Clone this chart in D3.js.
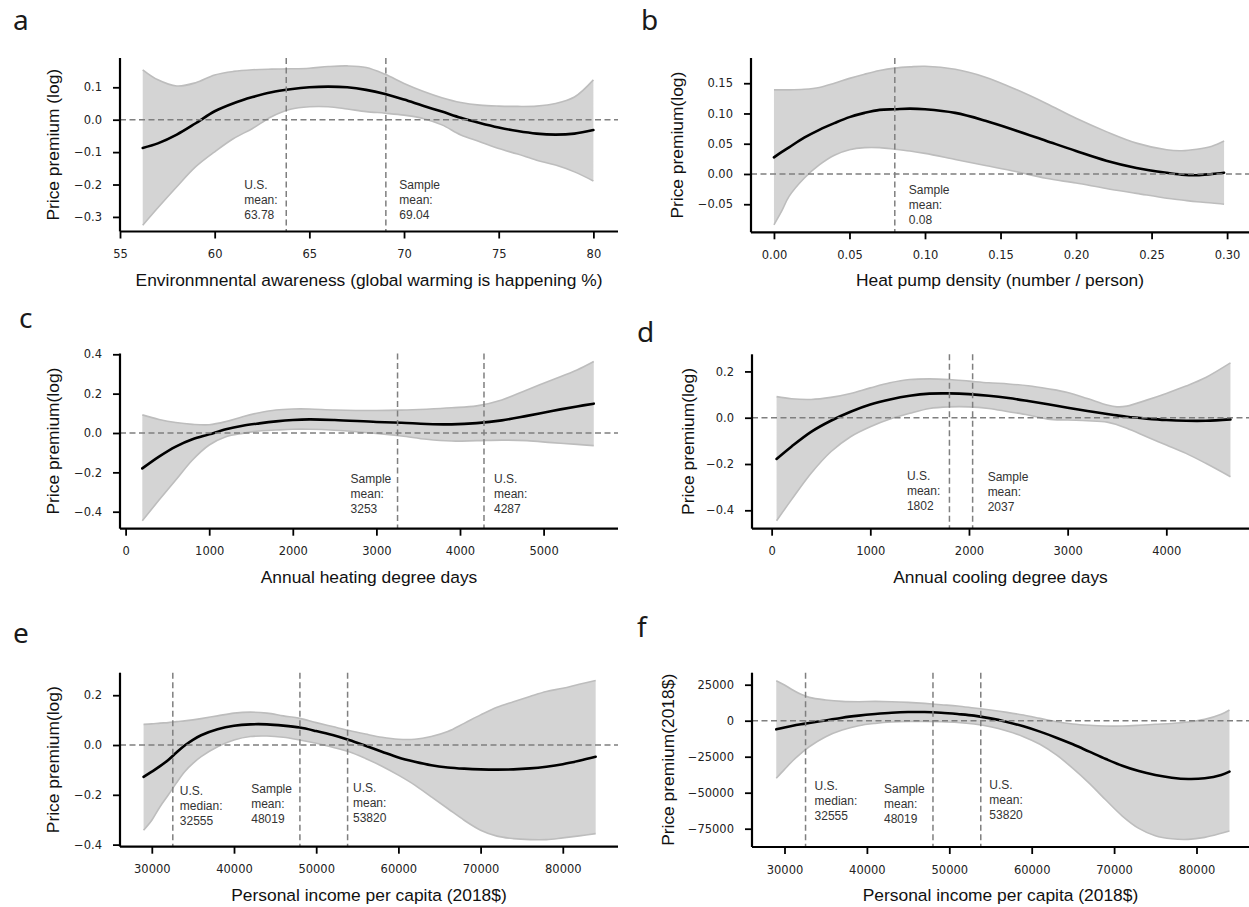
<!DOCTYPE html>
<html>
<head>
<meta charset="utf-8">
<script src="https://cdn.jsdelivr.net/npm/d3@7"></script>
<style>
  body { margin: 0; background: #fff; }
  svg { display: block; }
</style>
</head>
<body>
<svg id="fig" width="1249" height="907"></svg>
<script>
// ---------- a: environmental awareness ----------
const aX     = [56.2, 57, 58, 59, 60, 61, 62, 63, 64, 65, 66, 67, 68, 69, 70, 71, 72, 73, 74, 75, 76, 77, 78, 79, 80];
const aFit   = [-0.087, -0.073, -0.046, -0.011, 0.026, 0.051, 0.070, 0.085, 0.094, 0.100, 0.102, 0.100, 0.092, 0.079, 0.062, 0.043, 0.025, 0.006, -0.010, -0.024, -0.035, -0.043, -0.046, -0.043, -0.032];
const aUpper = [0.154, 0.123, 0.104, 0.114, 0.138, 0.149, 0.154, 0.156, 0.157, 0.159, 0.164, 0.166, 0.161, 0.140, 0.112, 0.088, 0.068, 0.053, 0.045, 0.042, 0.041, 0.042, 0.050, 0.070, 0.123];
const aLower = [-0.326, -0.272, -0.207, -0.145, -0.099, -0.058, -0.027, 0.009, 0.032, 0.040, 0.040, 0.033, 0.025, 0.020, 0.014, 0.004, -0.016, -0.047, -0.068, -0.089, -0.106, -0.125, -0.140, -0.161, -0.189];
const aMarkValues = [63.78, 69.04];
const aMarkLabels = [["U.S.", "mean:", "63.78"], ["Sample", "mean:", "69.04"]];
const aXTicks = [55, 60, 65, 70, 75, 80];
const aYTicks = [-0.3, -0.2, -0.1, 0.0, 0.1];

// ---------- b: heat pump density ----------
const bX     = [0, 0.005, 0.01, 0.02, 0.03, 0.04, 0.05, 0.06, 0.07, 0.08, 0.09, 0.10, 0.12, 0.14, 0.16, 0.18, 0.20, 0.22, 0.24, 0.26, 0.27, 0.28, 0.29, 0.298];
const bFit   = [0.0275, 0.036, 0.044, 0.060, 0.073, 0.084, 0.094, 0.101, 0.106, 0.107, 0.108, 0.107, 0.101, 0.088, 0.072, 0.055, 0.038, 0.022, 0.010, 0.002, -0.001, -0.002, 0.000, 0.002];
const bUpper = [0.139, 0.139, 0.139, 0.140, 0.143, 0.150, 0.158, 0.165, 0.171, 0.175, 0.177, 0.178, 0.173, 0.160, 0.140, 0.117, 0.092, 0.070, 0.051, 0.040, 0.0385, 0.041, 0.046, 0.0545];
const bLower = [-0.084, -0.062, -0.037, -0.007, 0.015, 0.031, 0.040, 0.0435, 0.0435, 0.041, 0.038, 0.034, 0.024, 0.014, 0.004, -0.007, -0.015, -0.024, -0.032, -0.040, -0.043, -0.046, -0.048, -0.050];
const bMarkValues = [0.08];
const bMarkLabels = [["Sample", "mean:", "0.08"]];
const bXTicks = [0, 0.05, 0.10, 0.15, 0.20, 0.25, 0.30];
const bYTicks = [-0.05, 0.00, 0.05, 0.10, 0.15];

// ---------- c: heating degree days ----------
const cX     = [200, 400, 600, 800, 1000, 1200, 1400, 1600, 1800, 2000, 2200, 2500, 3000, 3300, 3600, 3900, 4200, 4500, 4800, 5100, 5400, 5600];
const cFit   = [-0.180, -0.120, -0.069, -0.032, -0.007, 0.019, 0.037, 0.049, 0.059, 0.066, 0.069, 0.066, 0.056, 0.052, 0.046, 0.044, 0.050, 0.064, 0.087, 0.112, 0.135, 0.149];
const cUpper = [0.092, 0.069, 0.053, 0.044, 0.042, 0.058, 0.083, 0.103, 0.117, 0.122, 0.122, 0.117, 0.114, 0.116, 0.121, 0.128, 0.138, 0.168, 0.219, 0.269, 0.320, 0.363];
const cLower = [-0.446, -0.341, -0.239, -0.137, -0.061, -0.019, -0.002, 0.010, 0.015, 0.019, 0.019, 0.014, -0.002, -0.015, -0.032, -0.041, -0.039, -0.036, -0.039, -0.049, -0.058, -0.064];
const cMarkValues = [3253, 4287];
const cMarkLabels = [["Sample", "mean:", "3253"], ["U.S.", "mean:", "4287"]];
const cXTicks = [0, 1000, 2000, 3000, 4000, 5000];
const cYTicks = [-0.4, -0.2, 0.0, 0.2, 0.4];

// ---------- d: cooling degree days ----------
const dX     = [50, 200, 400, 600, 800, 1000, 1200, 1400, 1600, 1800, 2000, 2200, 2400, 2600, 2800, 3000, 3200, 3400, 3500, 3600, 3800, 4000, 4200, 4400, 4650];
const dFit   = [-0.178, -0.125, -0.061, -0.013, 0.026, 0.057, 0.079, 0.095, 0.104, 0.105, 0.102, 0.095, 0.085, 0.072, 0.058, 0.043, 0.029, 0.016, 0.010, 0.004, -0.004, -0.010, -0.013, -0.013, -0.007];
const dUpper = [0.091, 0.082, 0.079, 0.088, 0.105, 0.129, 0.151, 0.165, 0.168, 0.165, 0.158, 0.151, 0.146, 0.138, 0.125, 0.109, 0.083, 0.055, 0.047, 0.050, 0.076, 0.105, 0.137, 0.174, 0.237];
const dLower = [-0.445, -0.355, -0.240, -0.147, -0.082, -0.039, -0.006, 0.019, 0.040, 0.047, 0.047, 0.040, 0.026, 0.012, -0.006, -0.010, -0.013, -0.019, -0.030, -0.046, -0.082, -0.118, -0.154, -0.197, -0.255];
const dMarkValues = [1802, 2037];
const dMarkLabels = [["U.S.", "mean:", "1802"], ["Sample", "mean:", "2037"]];
const dXTicks = [0, 1000, 2000, 3000, 4000];
const dYTicks = [-0.4, -0.2, 0.0, 0.2];

// ---------- e: income, log premium ----------
const eX     = [29000, 30000, 31000, 32000, 33000, 34000, 35000, 36000, 38000, 40000, 42000, 44000, 46000, 48000, 50000, 52000, 54000, 56000, 58000, 60000, 62000, 64000, 66000, 68000, 70000, 72000, 74000, 76000, 78000, 80000, 82000, 84000];
const eFit   = [-0.128, -0.107, -0.085, -0.060, -0.030, -0.002, 0.021, 0.039, 0.063, 0.077, 0.083, 0.083, 0.078, 0.070, 0.056, 0.040, 0.020, -0.003, -0.027, -0.050, -0.067, -0.081, -0.090, -0.095, -0.098, -0.099, -0.098, -0.094, -0.087, -0.077, -0.063, -0.047];
const eUpper = [0.083, 0.085, 0.088, 0.090, 0.094, 0.097, 0.101, 0.106, 0.117, 0.128, 0.132, 0.128, 0.117, 0.107, 0.090, 0.074, 0.058, 0.044, 0.031, 0.023, 0.023, 0.034, 0.054, 0.087, 0.121, 0.152, 0.174, 0.195, 0.215, 0.228, 0.244, 0.259];
const eLower = [-0.342, -0.302, -0.248, -0.201, -0.152, -0.107, -0.074, -0.047, -0.007, 0.020, 0.034, 0.036, 0.031, 0.020, 0.007, -0.009, -0.027, -0.054, -0.085, -0.121, -0.161, -0.208, -0.255, -0.302, -0.342, -0.366, -0.376, -0.380, -0.380, -0.373, -0.365, -0.356];
const eMarkValues = [32555, 48019, 53820];
const eMarkLabels = [["U.S.", "median:", "32555"], ["Sample", "mean:", "48019"], ["U.S.", "mean:", "53820"]];
const eXTicks = [30000, 40000, 50000, 60000, 70000, 80000];
const eYTicks = [-0.4, -0.2, 0.0, 0.2];

// ---------- f: income, dollar premium ----------
const fX     = [29000, 30000, 31000, 32000, 33000, 35000, 37000, 39000, 41000, 43000, 45000, 47000, 49000, 51000, 53000, 55000, 57000, 59000, 61000, 63000, 65000, 67000, 69000, 71000, 73000, 75000, 77000, 79000, 81000, 83000, 84000];
const fFit   = [-6000, -4700, -3500, -2500, -1600, 200, 2100, 3500, 4600, 5500, 6000, 6000, 5500, 4600, 3500, 1600, -900, -3900, -7600, -11800, -16400, -21500, -26600, -31300, -35000, -37700, -39600, -40500, -40000, -37700, -35400];
const fUpper = [27800, 24800, 21300, 18300, 16200, 14400, 13400, 13200, 13400, 13200, 12700, 12000, 11100, 10200, 8800, 7400, 5800, 3900, 1600, -700, -2300, -3200, -3700, -3700, -3200, -2500, -1900, -900, 900, 4400, 7400];
const fLower = [-40000, -33800, -27800, -22700, -18100, -11100, -6500, -3500, -1900, -900, -500, -500, -700, -1200, -2300, -4200, -7200, -11100, -16400, -23800, -33100, -43500, -55100, -66200, -74800, -79900, -82000, -82400, -81000, -78200, -76600];
const fMarkValues = [32555, 48019, 53820];
const fMarkLabels = [["U.S.", "median:", "32555"], ["Sample", "mean:", "48019"], ["U.S.", "mean:", "53820"]];
const fXTicks = [30000, 40000, 50000, 60000, 70000, 80000];
const fYTicks = [-75000, -50000, -25000, 0, 25000];

// ---------- panel layout ----------
const panels = [
  { letter: "a", letterPos: [13, 30],
    x: aX, fit: aFit, hi: aUpper, lo: aLower, marks: aMarkValues, markLabels: aMarkLabels,
    xTicks: aXTicks, yTicks: aYTicks, xFmt: d3.format("d"), yFmt: d3.format(".1f"),
    xLabel: "Environmnental awareness (global warming is happening %)", yLabel: "Price premium (log)",
    box: { left: 120, right: 618, top: 58, bottom: 231.5 }, xDomain: [55, 81.3], yDomain: [-0.345, 0.1904],
    yLabelX: 53, notes: [{ dx: -42, y: 189.3 }, { dx: 13.5, y: 189.3 }] },
  { letter: "b", letterPos: [641, 30],
    x: bX, fit: bFit, hi: bUpper, lo: bLower, marks: bMarkValues, markLabels: bMarkLabels,
    xTicks: bXTicks, yTicks: bYTicks, xFmt: d3.format(".2f"), yFmt: d3.format(".2f"),
    xLabel: "Heat pump density (number / person)", yLabel: "Price premium(log)",
    box: { left: 751, right: 1249, top: 58, bottom: 232.3 }, xDomain: [-0.0152, 0.3145], yDomain: [-0.0964, 0.1917],
    yLabelX: 677, notes: [{ dx: 14, y: 193.7 }] },
  { letter: "c", letterPos: [19, 328],
    x: cX, fit: cFit, hi: cUpper, lo: cLower, marks: cMarkValues, markLabels: cMarkLabels,
    xTicks: cXTicks, yTicks: cYTicks, xFmt: d3.format("d"), yFmt: d3.format(".1f"),
    xLabel: "Annual heating degree days", yLabel: "Price premium(log)",
    box: { left: 120, right: 618, top: 353.5, bottom: 528.7 }, xDomain: [-67, 5890], yDomain: [-0.4864, 0.404],
    yLabelX: 53, notes: [{ dx: -47, y: 482.7 }, { dx: 10, y: 482.7 }] },
  { letter: "d", letterPos: [637, 342],
    x: dX, fit: dFit, hi: dUpper, lo: dLower, marks: dMarkValues, markLabels: dMarkLabels,
    xTicks: dXTicks, yTicks: dYTicks, xFmt: d3.format("d"), yFmt: d3.format(".1f"),
    xLabel: "Annual cooling degree days", yLabel: "Price premium(log)",
    box: { left: 752, right: 1249, top: 354.3, bottom: 528.7 }, xDomain: [-199, 4838], yDomain: [-0.4795, 0.274],
    yLabelX: 688, notes: [{ dx: -42.5, y: 479.7 }, { dx: 15, y: 481.3 }] },
  { letter: "e", letterPos: [13, 643],
    x: eX, fit: eFit, hi: eUpper, lo: eLower, marks: eMarkValues, markLabels: eMarkLabels,
    xTicks: eXTicks, yTicks: eYTicks, xFmt: d3.format("d"), yFmt: d3.format(".1f"),
    xLabel: "Personal income per capita (2018$)", yLabel: "Price premium(log)",
    box: { left: 120, right: 618, top: 672.7, bottom: 846.7 }, xDomain: [26131, 86716], yDomain: [-0.4084, 0.2904],
    yLabelX: 53, notes: [{ dx: 7, y: 794.7 }, { dx: -48.7, y: 792.7 }, { dx: 5.4, y: 792 }] },
  { letter: "f", letterPos: [637, 637],
    x: fX, fit: fFit, hi: fUpper, lo: fLower, marks: fMarkValues, markLabels: fMarkLabels,
    xTicks: fXTicks, yTicks: fYTicks, xFmt: d3.format("d"), yFmt: d3.format("d"),
    xLabel: "Personal income per capita (2018$)", yLabel: "Price premium(2018$)",
    box: { left: 752, right: 1249, top: 672.7, bottom: 847 }, xDomain: [26056, 86372], yDomain: [-87708, 33333],
    yLabelX: 668, notes: [{ dx: 9, y: 790.3 }, { dx: -49, y: 792.7 }, { dx: 8.6, y: 789.3 }] }
];

const svg = d3.select("#fig");
const TICK_FONT = "'DejaVu Sans', sans-serif";
const LABEL_FONT = "'Liberation Sans', Arial, sans-serif";

panels.forEach(p => {
  const b = p.box;
  const x = d3.scaleLinear().domain(p.xDomain).range([b.left, b.right]);
  const y = d3.scaleLinear().domain(p.yDomain).range([b.bottom, b.top]);
  const rows = p.x.map((v, i) => ({ x: v, fit: p.fit[i], hi: p.hi[i], lo: p.lo[i] }));
  const g = svg.append("g");

  // confidence band
  const curve = d3.curveCatmullRom.alpha(0.5);
  g.append("path")
    .datum(rows)
    .attr("d", d3.area().x(d => x(d.x)).y0(d => y(d.lo)).y1(d => y(d.hi)).curve(curve))
    .attr("fill", "#d4d4d4");
  ["hi", "lo"].forEach(k => {
    g.append("path")
      .datum(rows)
      .attr("d", d3.line().x(d => x(d.x)).y(d => y(d[k])).curve(curve))
      .attr("fill", "none").attr("stroke", "#bdbdbd").attr("stroke-width", 1.6);
  });

  // fitted curve
  g.append("path")
    .datum(rows)
    .attr("d", d3.line().x(d => x(d.x)).y(d => y(d.fit)).curve(curve))
    .attr("fill", "none").attr("stroke", "#000").attr("stroke-width", 2.6)
    .attr("stroke-linecap", "round");

  // reference lines
  g.append("line")
    .attr("x1", b.left).attr("x2", b.right).attr("y1", y(0)).attr("y2", y(0))
    .attr("stroke", "#7f7f7f").attr("stroke-width", 1.5).attr("stroke-dasharray", "6,3.5");
  p.marks.forEach(m => {
    g.append("line")
      .attr("x1", x(m)).attr("x2", x(m)).attr("y1", b.top).attr("y2", b.bottom)
      .attr("stroke", "#7f7f7f").attr("stroke-width", 1.5).attr("stroke-dasharray", "6,3.5");
  });

  // annotations for the reference lines
  p.markLabels.forEach((lines, i) => {
    const n = p.notes[i];
    const t = g.append("text")
      .attr("font-family", LABEL_FONT).attr("font-size", 12).attr("fill", "#333");
    lines.forEach((s, j) => {
      t.append("tspan").attr("x", x(p.marks[i]) + n.dx).attr("y", n.y + j * 15).text(s);
    });
  });

  // axes
  const xAxis = d3.axisBottom(x).tickValues(p.xTicks).tickFormat(p.xFmt)
    .tickSize(7).tickSizeOuter(0).tickPadding(11.5);
  const yAxis = d3.axisLeft(y).tickValues(p.yTicks).tickFormat(p.yFmt)
    .tickSize(7).tickSizeOuter(0).tickPadding(11);
  const gx = g.append("g").attr("transform", `translate(0,${b.bottom})`).call(xAxis);
  const gy = g.append("g").attr("transform", `translate(${b.left},0)`).call(yAxis);
  [gx, gy].forEach(ax => {
    ax.select(".domain").attr("stroke", "#000").attr("stroke-width", 2.2);
    ax.selectAll(".tick line").attr("stroke", "#000").attr("stroke-width", 1.8);
    ax.selectAll(".tick text").attr("font-family", TICK_FONT).attr("font-size", 11.5).attr("fill", "#222");
  });
  // x spine spans from the y spine to the right edge
  gx.select(".domain").attr("d", `M${b.left},0H${b.right}`);
  gy.select(".domain").attr("d", `M0,${b.top}V${b.bottom}`);

  // axis titles
  g.append("text")
    .attr("x", (b.left + b.right) / 2).attr("y", b.bottom + 54)
    .attr("text-anchor", "middle")
    .attr("font-family", LABEL_FONT).attr("font-size", 17.4).attr("fill", "#111")
    .text(p.xLabel);
  g.append("text")
    .attr("transform", `translate(${p.yLabelX},${(b.top + b.bottom) / 2}) rotate(-90)`)
    .attr("text-anchor", "middle").attr("dy", "0.35em")
    .attr("font-family", LABEL_FONT).attr("font-size", 17.4).attr("fill", "#111")
    .text(p.yLabel);

  // panel letter
  g.append("text")
    .attr("x", p.letterPos[0]).attr("y", p.letterPos[1])
    .attr("font-family", "'Noto Sans', 'Open Sans', sans-serif").attr("font-size", 28)
    .attr("fill", "#1a1a1a")
    .text(p.letter);
});
</script>
</body>
</html>
